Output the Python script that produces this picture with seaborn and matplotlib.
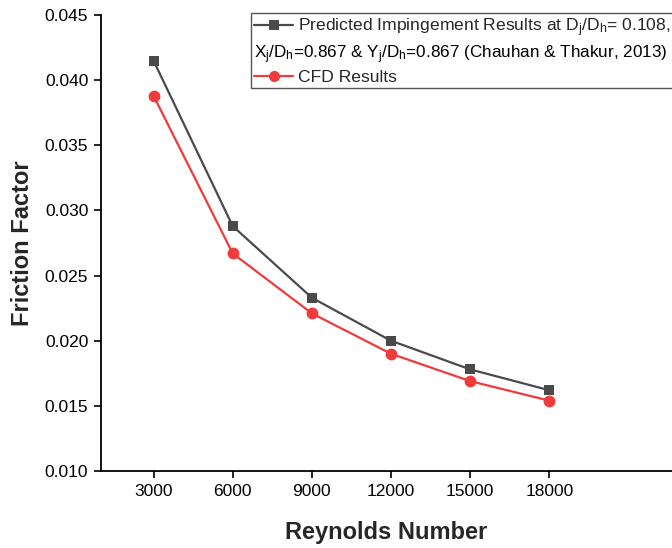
import matplotlib
matplotlib.use("Agg")
import matplotlib.pyplot as plt
from matplotlib.lines import Line2D
import seaborn as sns
import pandas as pd

reynolds = [3000, 6000, 9000, 12000, 15000, 18000]
predicted = [0.0415, 0.0288, 0.0233, 0.0200, 0.0178, 0.0162]
cfd = [0.0388, 0.0267, 0.0221, 0.0190, 0.0169, 0.0154]
xticks = [3000, 6000, 9000, 12000, 15000, 18000]
yticks = [0.010, 0.015, 0.020, 0.025, 0.030, 0.035, 0.040, 0.045]

label_pred_1 = r"Predicted Impingement Results at D$_j$/D$_h$= 0.108,"
label_pred_2 = r"X$_j$/D$_h$=0.867 & Y$_j$/D$_h$=0.867 (Chauhan & Thakur, 2013)"
label_cfd = "CFD Results"

sns.set_style("ticks")
plt.rcParams["font.family"] = ["Liberation Sans", "DejaVu Sans"]
plt.rcParams["mathtext.fontset"] = "custom"
plt.rcParams["mathtext.rm"] = "Liberation Sans"
plt.rcParams["mathtext.it"] = "Liberation Sans"

gray = "#4a4a4a"
red = "#ef3b3b"
leg_fs = 12.6

fig = plt.figure(figsize=(6.72, 5.48), dpi=100)
ax = fig.add_axes([0.150, 0.1405, 0.850, 0.832])

df = pd.DataFrame({"Re": reynolds, "pred": predicted, "cfd": cfd})
sns.lineplot(data=df, x="Re", y="pred", ax=ax, color=gray, marker="s",
             markersize=7.5, markeredgewidth=0, linewidth=1.6)
sns.lineplot(data=df, x="Re", y="cfd", ax=ax, color=red, marker="o",
             markersize=8.5, markeredgewidth=0, linewidth=1.6)

ax.set_xlim(1000, 22650)
ax.set_ylim(0.010, 0.045)
ax.set_xticks(xticks)
ax.set_xticklabels([str(v) for v in xticks])
ax.set_yticks(yticks)
ax.set_yticklabels([f"{v:.3f}" for v in yticks])
ax.tick_params(axis="both", direction="out", length=5, width=1.2,
               labelsize=12.5, colors="black", pad=4)
for s in ["top", "right"]:
    ax.spines[s].set_visible(False)
for s in ["left", "bottom"]:
    ax.spines[s].set_linewidth(1.3)
    ax.spines[s].set_color("black")

ax.set_xlabel("Reynolds Number", fontsize=17, fontweight="bold", labelpad=16)
ax.set_ylabel("Friction Factor", fontsize=17, fontweight="bold", labelpad=8)

handles = [
    Line2D([], [], color=gray, marker="s", markersize=7, markeredgewidth=0, linewidth=1.6),
    Line2D([], [], color="none"),
    Line2D([], [], color=red, marker="o", markersize=8, markeredgewidth=0, linewidth=1.6),
]
# second entry is a placeholder row; its text is drawn flush-left on top
leg = fig.legend(handles, [label_pred_1, r"X$_j$", label_cfd],
                 loc="upper right", bbox_to_anchor=(1.003, 0.976),
                 fontsize=leg_fs, frameon=True, fancybox=False,
                 edgecolor="#555555", framealpha=1, borderpad=0.2,
                 labelspacing=0.22, handlelength=2.2, handletextpad=0.3,
                 borderaxespad=0)
leg.get_frame().set_linewidth(1.0)
texts = leg.get_texts()
texts[1].set_color("none")

fig.canvas.draw()
renderer = fig.canvas.get_renderer()
t1 = texts[1].get_window_extent(renderer)
frame = leg.get_frame().get_window_extent(renderer)
texts[1].set_visible(False)
fig.text((frame.x0 + 3) / fig.bbox.width, t1.y0 / fig.bbox.height, label_pred_2,
         ha="left", va="bottom", fontsize=12.3, color="black", zorder=20)

fig.savefig("out.png", dpi=100)
